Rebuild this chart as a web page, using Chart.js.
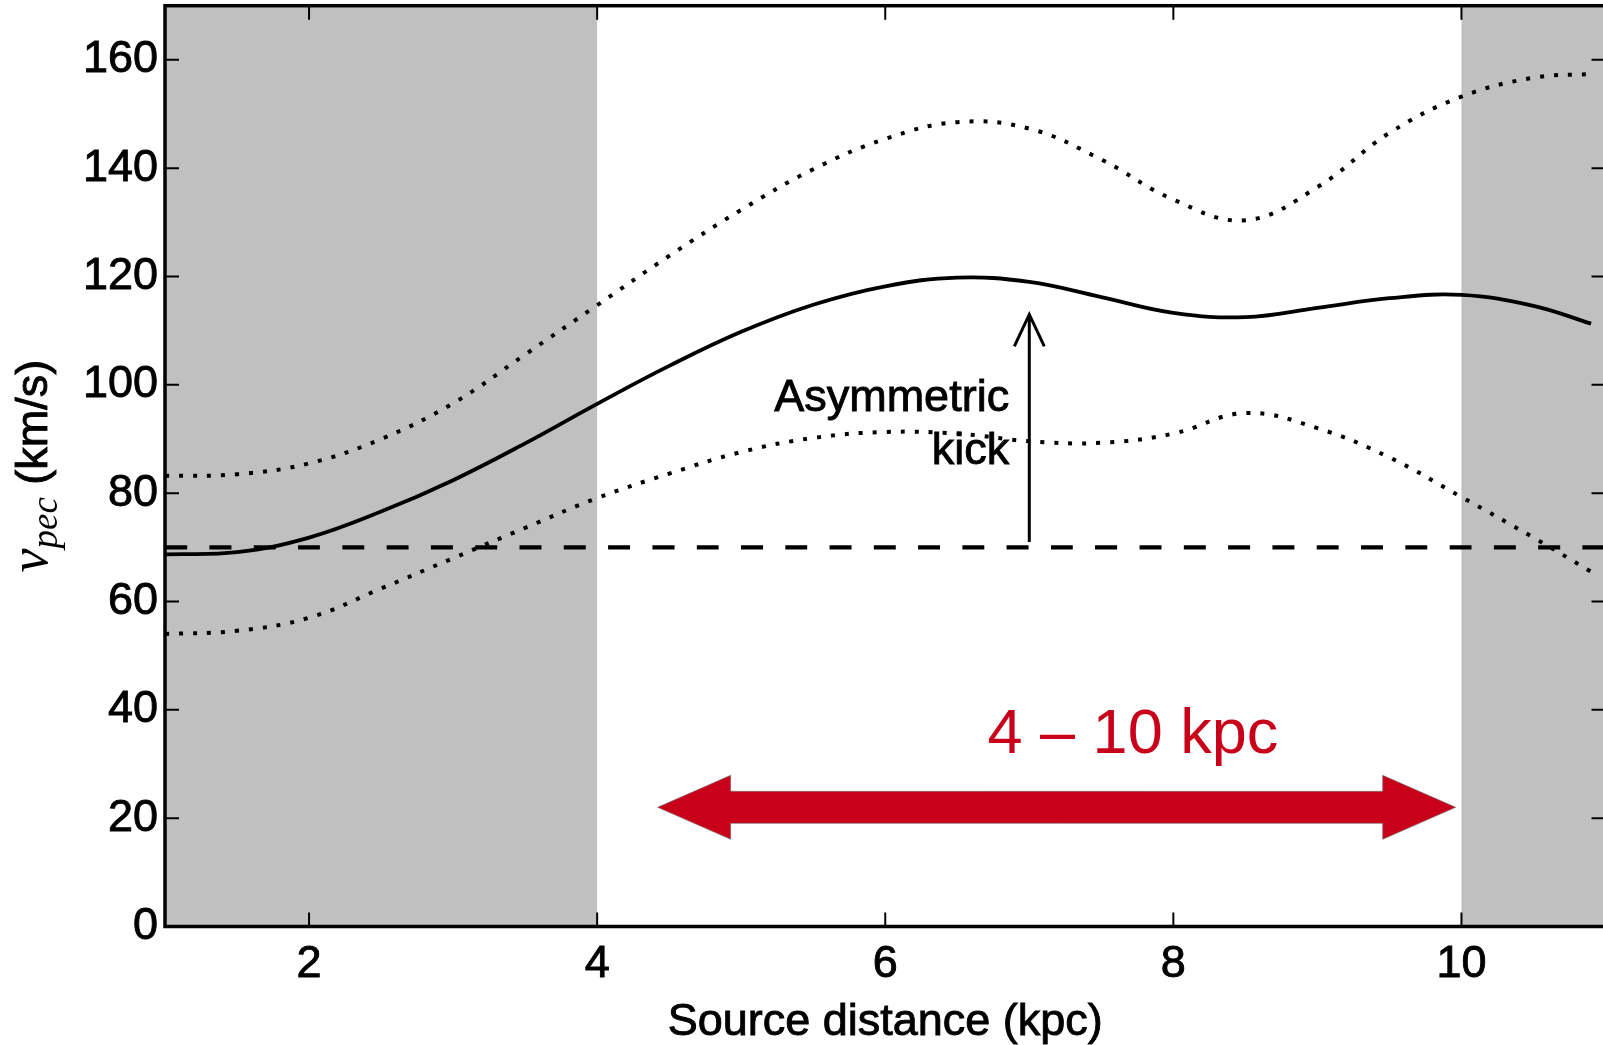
<!DOCTYPE html>
<html>
<head>
<meta charset="utf-8">
<script src="https://cdn.jsdelivr.net/npm/chart.js@4.4.0/dist/chart.umd.min.js"></script>
<style>
  html, body { margin: 0; padding: 0; background: #fff; overflow: hidden; }
  canvas { display: block; }
</style>
</head>
<body>
<canvas id="myChart" width="1610" height="1045"></canvas>
<script>
// source distance (kpc) and peculiar velocity (km/s)
const distances  = [1, 1.5, 2, 2.5, 3, 3.5, 4, 4.5, 5, 5.5, 6, 6.5, 7, 7.5, 8, 8.5, 9, 9.5, 10, 10.5, 10.9];
const vpecMedian = [68.7, 69.1, 71.8, 76.6, 82.4, 89.2, 96.5, 103.5, 109.8, 114.8, 118.2, 119.8, 119.0, 116.2, 113.3, 112.5, 114.2, 116.0, 116.6, 114.6, 111.3];
const vpecUpper  = [83.2, 83.5, 85.5, 90.0, 96.6, 105.6, 114.7, 123.8, 132.3, 139.8, 145.4, 148.5, 147.3, 141.6, 134.2, 130.4, 136.5, 146.5, 153.2, 156.7, 157.4];
const vpecLower  = [54.0, 54.6, 57.0, 62.4, 68.0, 73.6, 79.1, 83.6, 87.6, 90.2, 91.3, 91.0, 89.6, 89.3, 91.0, 94.8, 92.0, 86.6, 79.3, 71.8, 65.5];
const kickFloor  = 70;

const xTicks = [2, 4, 6, 8, 10];
const yTicks = [0, 20, 40, 60, 80, 100, 120, 140, 160];
const xTitle = 'Source distance (kpc)';

// excluded distance ranges (grey)
const shadedRanges = [[1, 4], [10, 11]];

const kickArrow  = { x: 7, from: 71, to: 113 };
const kickLabel  = { lines: ['Asymmetric', 'kick'], x: 6.86, y: [95.1, 85.3] };
const rangeArrow = { from: 4.42, to: 9.96, y: 22 };
const rangeLabel = { text: '4 \u2013 10 kpc', x: 6.71, y: 32 };

const sans = '"Liberation Sans", Arial, sans-serif';
const red = '#c8001a';
const labelSize = 45;
const heavy = 0.9; // stroke to thicken the black text a bit

function toPoints(xs, ys){
    return xs.map((x, i) => ({ x: x, y: ys[i] }));
}

function noPadding(s){
    s.paddingTop = 0;
    s.paddingBottom = 0;
    s.paddingLeft = 0;
    s.paddingRight = 0;
}

function boldText(ctx, t, x, y){
    ctx.strokeText(t, x, y);
    ctx.fillText(t, x, y);
}

function drawFrame(chart){
    const ctx = chart.ctx;
    const a = chart.chartArea;
    const xs = chart.scales.x;
    const ys = chart.scales.y;
    ctx.save();
    ctx.strokeStyle = '#000';
    ctx.lineWidth = 2;
    // inward ticks on all four sides
    xTicks.forEach(v => {
        const px = xs.getPixelForValue(v);
        ctx.beginPath();
        ctx.moveTo(px, a.bottom); ctx.lineTo(px, a.bottom - 14);
        ctx.moveTo(px, a.top); ctx.lineTo(px, a.top + 14);
        ctx.stroke();
    });
    yTicks.forEach(v => {
        const py = ys.getPixelForValue(v);
        ctx.beginPath();
        ctx.moveTo(a.left, py); ctx.lineTo(a.left + 14, py);
        ctx.moveTo(a.right, py); ctx.lineTo(a.right - 14, py);
        ctx.stroke();
    });
    ctx.lineWidth = 3.5;
    ctx.strokeRect(a.left, a.top, a.right - a.left, a.bottom - a.top);
    ctx.restore();
}

function drawTitles(chart){
    const ctx = chart.ctx;
    const a = chart.chartArea;
    ctx.save();
    ctx.fillStyle = '#000';
    ctx.strokeStyle = '#000';
    ctx.lineWidth = heavy;
    ctx.textBaseline = 'alphabetic';

    ctx.font = labelSize + 'px ' + sans;
    ctx.textAlign = 'center';
    boldText(ctx, xTitle, (a.left + a.right) / 2, 1035);

    // v_pec (km/s), rotated
    const vFont = 'italic 54px "Liberation Serif", serif';
    const subFont = 'italic 37px "Liberation Serif", serif';
    const restFont = labelSize + 'px ' + sans;
    ctx.textAlign = 'left';
    ctx.translate(47, (a.top + a.bottom) / 2);
    ctx.rotate(-Math.PI / 2);
    ctx.font = vFont; const wv = ctx.measureText('v').width;
    ctx.font = subFont; const ws = ctx.measureText('pec').width;
    ctx.font = restFont; const wr = ctx.measureText(' (km/s)').width;
    const x0 = -(wv + ws + wr) / 2;
    ctx.font = vFont; ctx.fillText('v', x0, 0);
    ctx.font = subFont; ctx.fillText('pec', x0 + wv, 10);
    ctx.font = restFont; boldText(ctx, ' (km/s)', x0 + wv + ws, 0);
    ctx.restore();
}

function drawAnnotations(chart){
    const ctx = chart.ctx;
    const xs = chart.scales.x;
    const ys = chart.scales.y;
    ctx.save();

    // kick arrow
    const kx = xs.getPixelForValue(kickArrow.x);
    const k0 = ys.getPixelForValue(kickArrow.from);
    const k1 = ys.getPixelForValue(kickArrow.to);
    ctx.strokeStyle = '#000';
    ctx.lineWidth = 3;
    ctx.beginPath();
    ctx.moveTo(kx, k0); ctx.lineTo(kx, k1);
    ctx.moveTo(kx - 15, k1 + 32); ctx.lineTo(kx, k1); ctx.lineTo(kx + 15, k1 + 32);
    ctx.stroke();

    ctx.fillStyle = '#000';
    ctx.lineWidth = heavy;
    ctx.font = labelSize + 'px ' + sans;
    ctx.textAlign = 'right';
    ctx.textBaseline = 'alphabetic';
    kickLabel.lines.forEach((t, i) => {
        boldText(ctx, t, xs.getPixelForValue(kickLabel.x), ys.getPixelForValue(kickLabel.y[i]));
    });

    // 4-10 kpc double arrow
    const l = xs.getPixelForValue(rangeArrow.from);
    const r = xs.getPixelForValue(rangeArrow.to);
    const c = ys.getPixelForValue(rangeArrow.y);
    const head = 73, hw = 32, sw = 16;
    ctx.beginPath();
    ctx.moveTo(l, c);
    ctx.lineTo(l + head, c - hw);
    ctx.lineTo(l + head, c - sw);
    ctx.lineTo(r - head, c - sw);
    ctx.lineTo(r - head, c - hw);
    ctx.lineTo(r, c);
    ctx.lineTo(r - head, c + hw);
    ctx.lineTo(r - head, c + sw);
    ctx.lineTo(l + head, c + sw);
    ctx.lineTo(l + head, c + hw);
    ctx.closePath();
    ctx.fillStyle = red;
    ctx.fill();
    ctx.strokeStyle = 'rgba(110,110,110,0.6)';
    ctx.lineWidth = 1;
    ctx.stroke();

    ctx.fillStyle = red;
    ctx.font = '63px ' + sans;
    ctx.textAlign = 'left';
    ctx.fillText(rangeLabel.text, xs.getPixelForValue(rangeLabel.x), ys.getPixelForValue(rangeLabel.y));
    ctx.restore();
}

const plotExtras = {
    id: 'plotExtras',
    beforeDatasetsDraw(chart){
        const ctx = chart.ctx;
        const a = chart.chartArea;
        const xs = chart.scales.x;
        ctx.save();
        ctx.fillStyle = '#c0c0c0';
        shadedRanges.forEach(rg => {
            const x0 = xs.getPixelForValue(rg[0]);
            const x1 = xs.getPixelForValue(rg[1]);
            ctx.fillRect(x0, a.top, x1 - x0, a.bottom - a.top);
        });
        ctx.restore();
    },
    afterDatasetsDraw(chart){
        drawAnnotations(chart);
        drawFrame(chart);
        drawTitles(chart);
    }
};

const curve = {
    showLine: true,
    borderColor: '#000000',
    pointRadius: 0,
    fill: false,
    tension: 0.4
};
const dotted = { borderWidth: 4, borderDash: [4, 10], borderCapStyle: 'butt' };
const tickFont = { family: sans, size: labelSize };

const ctx = document.querySelector('#myChart').getContext('2d');
const myChart = new Chart(ctx, {
    type: 'scatter',
    data: {
        datasets: [
            Object.assign({ data: toPoints(distances, vpecUpper) }, dotted, curve),
            Object.assign({ data: toPoints(distances, vpecLower) }, dotted, curve),
            Object.assign({ data: toPoints(distances, vpecMedian), borderWidth: 3.8 }, curve),
            Object.assign({ data: [{ x: 1, y: kickFloor }, { x: 11, y: kickFloor }], borderWidth: 4.2, borderDash: [22, 22.3] }, curve)
        ]
    },
    options: {
        responsive: false,
        animation: false,
        devicePixelRatio: 1,
        layout: { padding: { top: 5.7, right: 4.5, left: 0, bottom: 0 } },
        plugins: { legend: { display: false }, tooltip: { enabled: false } },
        scales: {
            x: {
                type: 'linear',
                min: 1,
                max: 11,
                afterBuildTicks: s => { s.ticks = xTicks.map(v => ({ value: v })); },
                afterFit: s => { s.height = 118.5; noPadding(s); },
                grid: { display: false, drawTicks: false },
                border: { display: false },
                ticks: { color: '#000', font: tickFont, padding: 11, maxRotation: 0, autoSkip: false,
                         textStrokeColor: '#000', textStrokeWidth: heavy }
            },
            y: {
                type: 'linear',
                min: 0,
                max: 170,
                afterBuildTicks: s => { s.ticks = yTicks.map(v => ({ value: v })); },
                afterFit: s => { s.width = 165; noPadding(s); },
                grid: { display: false, drawTicks: false },
                border: { display: false },
                ticks: { color: '#000', font: tickFont, padding: 7, autoSkip: false,
                         textStrokeColor: '#000', textStrokeWidth: heavy }
            }
        }
    },
    plugins: [plotExtras]
});
</script>
</body>
</html>
